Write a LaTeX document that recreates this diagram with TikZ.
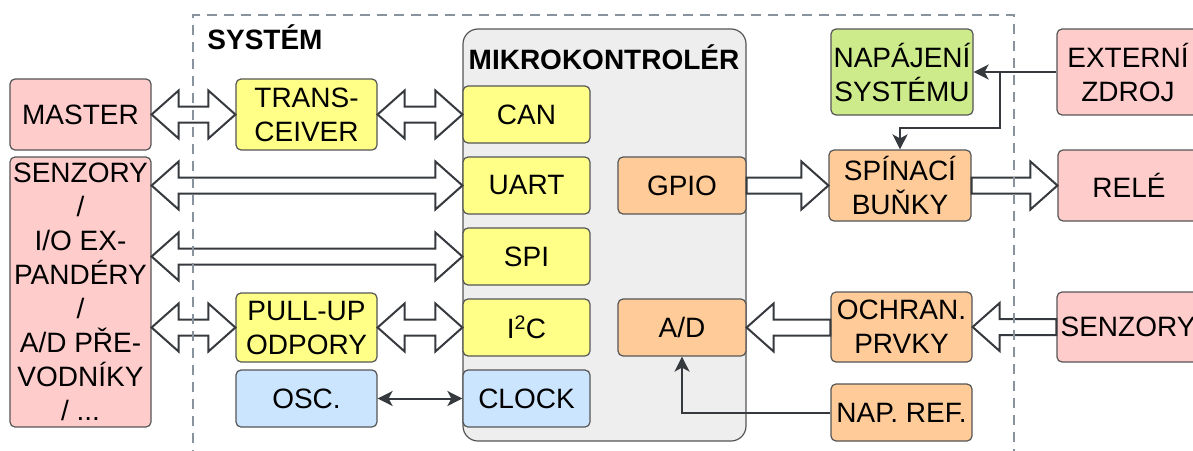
\documentclass[tikz,border=0pt]{standalone}
\usepackage{fontspec}
\setmainfont{Liberation Sans}
\usetikzlibrary{arrows.meta,calc}
\definecolor{cpink}{HTML}{FFCCCC}
\definecolor{cyel}{HTML}{FFFF88}
\definecolor{corange}{HTML}{FFCC99}
\definecolor{cblue}{HTML}{CCE5FF}
\definecolor{cgreen}{HTML}{CDEB8B}
\definecolor{cgray}{HTML}{EEEEEE}
\definecolor{cline}{HTML}{36393D}
\definecolor{cbox}{HTML}{555555}
\definecolor{cdash}{HTML}{88939E}
\tikzset{
  box/.style={draw=cbox, line width=1.2pt, rounded corners=5pt, align=center,
    inner sep=1pt, font=\fontsize{28}{34}\selectfont, text=black},
  pinkbox/.style={box, fill=cpink},
  yelbox/.style={box, fill=cyel},
  orbox/.style={box, fill=corange},
  bluebox/.style={box, fill=cblue},
  greenbox/.style={box, fill=cgreen},
  flex/.style={draw=cline, line width=2pt, fill=white, line join=miter},
  conn/.style={draw=cline, line width=2pt, arrows={-Stealth[length=15pt,width=15pt,inset=4pt]}},
  conn2/.style={draw=cline, line width=2pt, arrows={Stealth[length=15pt,width=15pt,inset=4pt]-Stealth[length=15pt,width=15pt,inset=4pt]}},
  boldlabel/.style={font=\bfseries\fontsize{28}{34}\selectfont, inner sep=0pt}
}
% single hollow arrow: tail at #1, tip at #2 (horizontal, at y of #2)
\newcommand{\flexone}[2]{%
  \path[flex] let \p1=(#1), \p2=(#2), \n1={ifthenelse(\x2>\x1,1,-1)} in
    (\x1,{\y2+8pt}) -- ({\x2-\n1*27pt},{\y2+8pt}) -- ({\x2-\n1*27pt},{\y2+24pt})
    -- (\x2,\y2) -- ({\x2-\n1*27pt},{\y2-24pt}) -- ({\x2-\n1*27pt},{\y2-8pt})
    -- (\x1,{\y2-8pt}) -- cycle;}
% double hollow arrow between #1 and #2
\newcommand{\flextwo}[2]{%
  \path[flex] let \p1=(#1), \p2=(#2), \n1={ifthenelse(\x2>\x1,1,-1)} in
    (\x1,\y2) -- ({\x1+\n1*27pt},{\y2+24pt}) -- ({\x1+\n1*27pt},{\y2+8pt})
    -- ({\x2-\n1*27pt},{\y2+8pt}) -- ({\x2-\n1*27pt},{\y2+24pt}) -- (\x2,\y2)
    -- ({\x2-\n1*27pt},{\y2-24pt}) -- ({\x2-\n1*27pt},{\y2-8pt})
    -- ({\x1+\n1*27pt},{\y2-8pt}) -- ({\x1+\n1*27pt},{\y2-24pt}) -- cycle;}
\begin{document}
\begin{tikzpicture}[x=1pt,y=-1pt]
\useasboundingbox (0,0) rectangle (1193,450);
% system label
\node[boldlabel] (sys) at (265,37) {SYSTÉM};
% microcontroller
\node[draw=cbox, line width=1.2pt, fill=cgray, rounded corners=15pt,
  minimum width=283pt, minimum height=412pt, inner sep=0pt] (mcu) at (604.5,235) {};
\node[boldlabel] (mcut) at (604,57) {MIKROKONTROLÉR};
% left side
\node[pinkbox, minimum width=141pt, minimum height=71pt] (master) at (80.5,114.5) {MASTER};
\node[pinkbox, minimum width=141pt, minimum height=270pt, inner sep=0pt] (sens) at (80.5,292)
  {SENZORY\\/\\I/O EX-\\PANDÉRY\\/\\A/D PŘE-\\VODNÍKY\\/ ...};
\node[yelbox, minimum width=141pt, minimum height=71pt] (trans) at (306.5,114.5) {TRANS-\\CEIVER};
\node[yelbox, minimum width=141pt, minimum height=69pt] (pullup) at (306.5,327.5) {PULL-UP\\ODPORY};
\node[bluebox, minimum width=141pt, minimum height=57pt] (osc) at (306.5,398.5) {OSC.};
% MCU peripherals
\node[yelbox, minimum width=127pt, minimum height=57pt] (can) at (526.5,114.5) {CAN};
\node[yelbox, minimum width=127pt, minimum height=57pt] (uart) at (526.5,185.5) {UART};
\node[yelbox, minimum width=127pt, minimum height=57pt] (spi) at (526.5,256.5) {SPI};
\node[yelbox, minimum width=127pt, minimum height=57pt] (i2c) at (526.5,327.5) {I\textsuperscript{2}C};
\node[bluebox, minimum width=127pt, minimum height=57pt] (clock) at (526.5,398.5) {CLOCK};
\node[orbox, minimum width=128pt, minimum height=57pt] (gpio) at (682,185.5) {GPIO};
\node[orbox, minimum width=128pt, minimum height=57pt] (ad) at (682,327.5) {A/D};
% right side inside system
\node[greenbox, minimum width=142pt, minimum height=86pt] (nap) at (902,72) {NAPÁJENÍ\\SYSTÉMU};
\node[orbox, minimum width=142pt, minimum height=71pt] (spin) at (900,185.5) {SPÍNACÍ\\BUŇKY};
\node[orbox, minimum width=141pt, minimum height=70pt] (ochr) at (901.5,327) {OCHRAN.\\PRVKY};
\node[orbox, minimum width=141pt, minimum height=57pt] (napref) at (901.5,412.5) {NAP. REF.};
% external right
\node[pinkbox, minimum width=142pt, minimum height=86pt] (ext) at (1128,72) {EXTERNÍ\\ZDROJ};
\node[pinkbox, minimum width=142pt, minimum height=71pt] (rele) at (1129,185.5) {RELÉ};
\node[pinkbox, minimum width=142pt, minimum height=70pt] (senr) at (1128,327) {SENZORY};
% hollow arrows
\flextwo{master.east}{trans.west}
\flextwo{trans.east}{can.west}
\flextwo{sens.east |- uart.west}{uart.west}
\flextwo{sens.east |- spi.west}{spi.west}
\flextwo{sens.east |- pullup.west}{pullup.west}
\flextwo{pullup.east}{i2c.west}
\flexone{gpio.east}{spin.west}
\flexone{spin.east}{rele.west}
\flexone{senr.west}{ochr.east}
\flexone{ochr.west |- ad.east}{ad.east}
% thin connectors
\draw[conn2] (osc.east) -- (clock.west);
\draw[conn] (ext.west) -- (nap.east);
\coordinate (j1) at (1000,72);
\coordinate (j2) at (1000,128);
\draw[conn] (j1) -- (j2) -| (spin.north);
\draw[conn] (napref.west) -| (ad.south);
% system frame
\draw[cdash, line width=2.6pt, dash pattern=on 10pt off 7pt] (193,460) -- (193,15) -- (1014,15) -- (1014,460);
\end{tikzpicture}
\end{document}
